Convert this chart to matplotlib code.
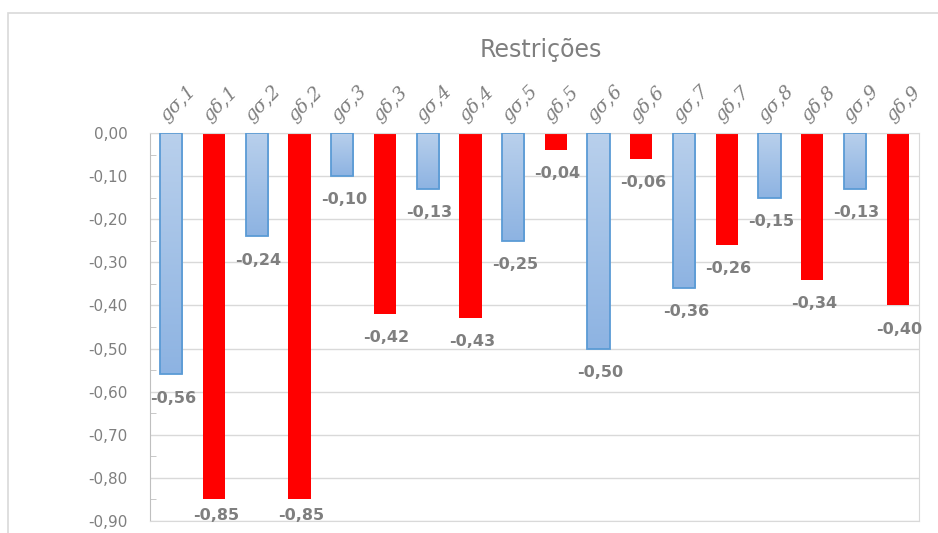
import matplotlib
matplotlib.use("Agg")
import matplotlib.pyplot as plt
import numpy as np
from matplotlib.patches import Rectangle
from matplotlib.ticker import MultipleLocator, FuncFormatter
from matplotlib.colors import LinearSegmentedColormap
import matplotlib.transforms as mtransforms

# Constraint values per pair (σ = stress, δ = displacement)
sigma_values = [-0.56, -0.24, -0.10, -0.13, -0.25, -0.50, -0.36, -0.15, -0.13]
delta_values = [-0.85, -0.85, -0.42, -0.43, -0.04, -0.06, -0.26, -0.34, -0.40]
pair_ids = [str(i) for i in range(1, 10)]

categories = []
values = []
kinds = []
for pid, s, d in zip(pair_ids, sigma_values, delta_values):
    categories += [f"gσ,{pid}", f"gδ,{pid}"]
    values += [s, d]
    kinds += ["sigma", "delta"]

title = "Restrições"
gray_text = "#7f7f7f"

fig = plt.figure(figsize=(9.38, 5.33), dpi=100)
# chart frame
fig.patches.append(Rectangle((8 / 938, -0.1), 1.2, 1.1 - 13 / 533,
                             transform=fig.transFigure, fill=False,
                             edgecolor="#d9d9d9", linewidth=1.2))
ax = fig.add_axes([150 / 938, 1 - 521 / 533, (919 - 150) / 938, (521 - 133) / 533])

x = np.arange(len(categories))
width = 0.52
ax.set_xlim(-0.5, len(categories) - 0.5)
ax.set_ylim(-0.90, 0.0)

# gridlines
ax.yaxis.set_major_locator(MultipleLocator(0.10))
ax.yaxis.set_minor_locator(MultipleLocator(0.05))
ax.grid(axis="y", which="major", color="#d9d9d9", linewidth=1.0)
ax.set_axisbelow(True)

grad = np.linspace(0, 1, 256).reshape(-1, 1)
blue_cmap = LinearSegmentedColormap.from_list("bluegrad", ["#b9d0ec", "#8db3e2"])

for xi, v, k in zip(x, values, kinds):
    if k == "delta":
        ax.bar(xi, v, width=width, color="#ff0000", edgecolor="none", zorder=2)
    else:
        bars = ax.bar(xi, v, width=width, color="#a9c5e8", edgecolor="#5b9bd5",
                      linewidth=1.3, zorder=3)
        b = bars[0]
        im = ax.imshow(grad, cmap=blue_cmap, aspect="auto",
                       extent=(xi - width / 2, xi + width / 2, v, 0),
                       origin="upper", zorder=2.5)
        im.set_clip_path(b)
        b.set_facecolor("none")

# value labels beneath each bar end
for xi, v in zip(x, values):
    lbl = f"{v:.2f}".replace(".", ",")
    yoff = -17 if v > -0.8 else -11.5
    ax.annotate(lbl, (xi + 0.04, v), xytext=(0, yoff), textcoords="offset points",
                ha="center", va="center", fontsize=11.5, fontweight="bold",
                color=gray_text, annotation_clip=False, zorder=5)

# category labels above the plot, rotated
trans = mtransforms.blended_transform_factory(ax.transData, ax.transAxes)
for xi, c in zip(x, categories):
    ax.text(xi - 0.05, 1.02, c, transform=trans, rotation=45, rotation_mode="anchor",
            ha="left", va="bottom", fontsize=13.5, fontstyle="italic",
            family="DejaVu Serif", color=gray_text)

ax.set_xticks([])
ax.yaxis.set_major_formatter(FuncFormatter(
    lambda v, p: f"{v:.2f}".replace(".", ",").replace("-0,00", "0,00")))
ax.tick_params(axis="y", which="major", length=0, labelsize=11, labelcolor=gray_text, pad=16)
ax.tick_params(axis="y", which="minor", direction="in", length=4, color="#bfbfbf")

for name, sp in ax.spines.items():
    sp.set_color("#d9d9d9")
ax.spines["left"].set_color("#bfbfbf")

fig.text(541 / 938, 1 - 50 / 533, title, ha="center", va="center",
         fontsize=17, color=gray_text)

fig.savefig("out.png", dpi=100)
